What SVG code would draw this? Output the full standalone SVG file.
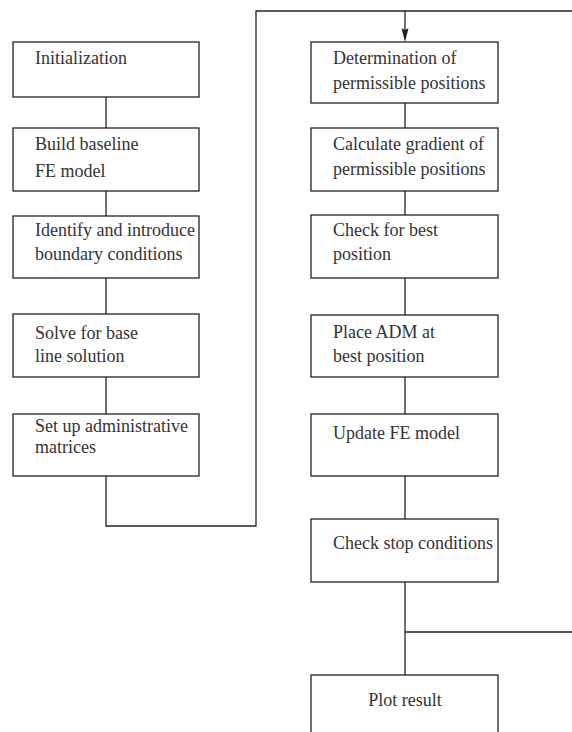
<svg xmlns="http://www.w3.org/2000/svg" width="572" height="732" viewBox="0 0 572 732">
<style>
rect{fill:#fff;stroke:#222;stroke-width:1.3}
.c{fill:none;stroke:#222;stroke-width:1.3}
text{font-size:18px;fill:#333}
</style>
<g id="connectors">
<path class="c" d="M106,97 V128 M106,191 V216 M106,278 V314 M106,377 V414"/>
<path class="c" d="M106,476 V526 H256 V11 H572"/>
<path class="c" d="M405,103 V128 M405,191 V215 M405,278 V315 M405,377 V414 M405,476 V519 M405,582 V675 M405,632 H572"/>
<path d="M405,11 V30" class="c"/>
<path d="M401.5,28 L405,42 L408.5,28 L405,30 Z" fill="#222"/>
</g>
<g font-family="Liberation Serif, Times New Roman, DejaVu Serif, serif">
<g id="n1"><rect x="13" y="42" width="186" height="55"/><text x="35" y="64">Initialization</text></g>
<g id="n2"><rect x="13" y="128" width="186" height="63"/><text x="35" y="150">Build baseline</text><text x="35" y="177">FE model</text></g>
<g id="n3"><rect x="13" y="216" width="186" height="62"/><text x="35" y="236">Identify and introduce</text><text x="35" y="260">boundary conditions</text></g>
<g id="n4"><rect x="13" y="314" width="186" height="63"/><text x="35" y="339">Solve for base</text><text x="35" y="362">line solution</text></g>
<g id="n5"><rect x="13" y="414" width="186" height="62"/><text x="35" y="432">Set up administrative</text><text x="35" y="453">matrices</text></g>
<g id="m1"><rect x="311" y="42" width="187" height="61"/><text x="333" y="64">Determination of</text><text x="333" y="89">permissible positions</text></g>
<g id="m2"><rect x="311" y="128" width="187" height="63"/><text x="333" y="150">Calculate gradient of</text><text x="333" y="175">permissible positions</text></g>
<g id="m3"><rect x="311" y="215" width="187" height="63"/><text x="333" y="236">Check for best</text><text x="333" y="260">position</text></g>
<g id="m4"><rect x="311" y="315" width="187" height="62"/><text x="333" y="338">Place ADM at</text><text x="333" y="362">best position</text></g>
<g id="m5"><rect x="311" y="414" width="187" height="62"/><text x="333" y="439">Update FE model</text></g>
<g id="m6"><rect x="311" y="519" width="187" height="63"/><text x="333" y="549">Check stop conditions</text></g>
<g id="m7"><rect x="311" y="675" width="187" height="70"/><text x="405" y="706" text-anchor="middle">Plot result</text></g>
</g>
</svg>
